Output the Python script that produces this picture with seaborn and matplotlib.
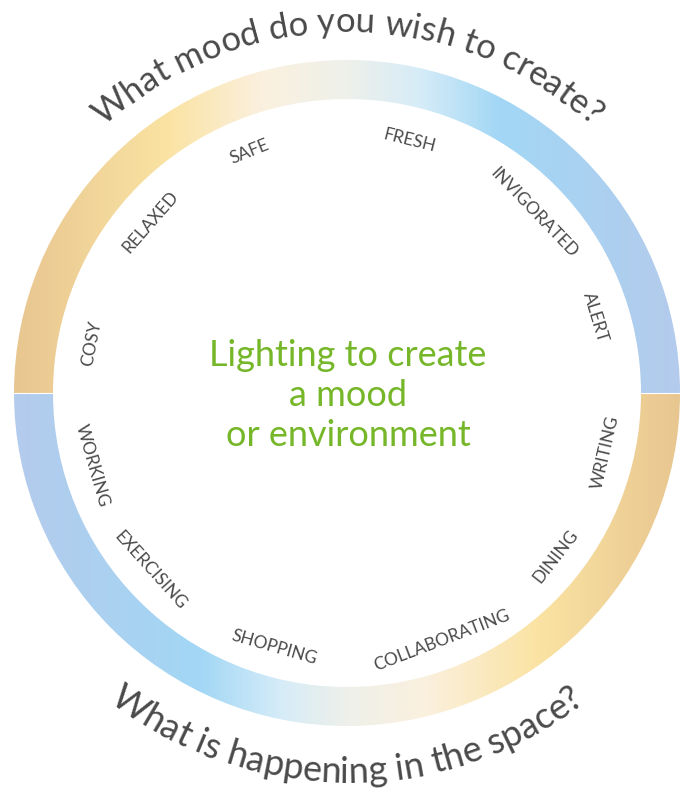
import numpy as np
import matplotlib
matplotlib.use("Agg")
import matplotlib.pyplot as plt
import seaborn as sns
from matplotlib.colors import LinearSegmentedColormap
from matplotlib.patches import Wedge
from matplotlib.font_manager import FontProperties
from matplotlib.textpath import TextToPath

sns.set_theme(style="white")
plt.rcParams['font.family'] = ['Lato', 'DejaVu Sans']

# ---- data ----
mood_labels = ['COSY', 'RELAXED', 'SAFE', 'FRESH', 'INVIGORATED', 'ALERT']
mood_angles = [169, 139, 112, 76, 44, 17]
activity_labels = ['WORKING', 'EXERCISING', 'SHOPPING', 'COLLABORATING', 'DINING', 'WRITING']
activity_angles = [196, 222, 254, 291, 322, 347]
top_title = 'What mood do you wish to create?'
bottom_title = 'What is happening in the space?'
center_lines = ['Lighting to create', 'a mood', 'or environment']

# gradient stops (fraction across the ring width, colour)
warm_to_cool = [(0.00, '#E8C690'), (0.23, '#FAE3A2'), (0.37, '#FBF0DE'),
                (0.50, '#EEF0EA'), (0.61, '#D6ECF8'), (0.73, '#A2D7F5'),
                (1.00, '#B4CBEC')]
cool_to_warm = [(0.00, '#B4CBEC'), (0.28, '#A2D7F5'), (0.40, '#D6ECF8'),
                (0.50, '#EEF0EA'), (0.62, '#FBF0DE'), (0.79, '#FAE3A2'),
                (1.00, '#E8C690')]

R_OUT, R_IN = 333, 294
DPI = 100

fig = plt.figure(figsize=(6.8, 7.93), dpi=DPI)
ax = fig.add_axes([0, 0, 1, 1])
ax.set_xlim(-347, 333)
ax.set_ylim(-400, 393)
ax.set_aspect('equal')
ax.axis('off')

grad = np.linspace(0, 1, 512).reshape(1, -1)
for stops, t1, t2 in [(warm_to_cool, 0, 180), (cool_to_warm, 180, 360)]:
    cmap = LinearSegmentedColormap.from_list('ring', stops)
    wedge = Wedge((0, 0), R_OUT, t1, t2, width=R_OUT - R_IN,
                  facecolor='none', edgecolor='none')
    ax.add_patch(wedge)
    im = ax.imshow(grad, cmap=cmap, aspect='auto',
                   extent=(-R_OUT, R_OUT, -R_OUT, R_OUT), zorder=1)
    im.set_clip_path(wedge)
ax.plot([-R_OUT, -R_IN + 1], [0, 0], color='white', lw=0.8, zorder=2)
ax.plot([R_IN - 1, R_OUT], [0, 0], color='white', lw=0.8, zorder=2)

# ---- straight labels along the inner edge ----
label_kw = dict(fontsize=12.5, color='#4a4a4a', ha='center', va='center',
                rotation_mode='anchor')
for txt, a in zip(mood_labels, mood_angles):
    t = np.deg2rad(a)
    r = 260
    ax.text(r * np.cos(t), r * np.sin(t), txt, rotation=a - 90, **label_kw)
for txt, a in zip(activity_labels, activity_angles):
    t = np.deg2rad(a)
    r = 265
    ax.text(r * np.cos(t), r * np.sin(t), txt, rotation=a + 90, **label_kw)


# ---- curved titles ----
def curved_text(s, radius, fs, top=True, color='#4a4a4a'):
    prop = FontProperties(family=['Lato', 'DejaVu Sans'], size=fs)
    ttp = TextToPath()
    ref = ttp.get_text_width_height_descent('x', prop, ismath=False)[0]
    adv = [0.0]
    for i in range(1, len(s) + 1):
        w = ttp.get_text_width_height_descent(s[:i] + 'x', prop, ismath=False)[0]
        adv.append((w - ref) * DPI / 72.0)
    total = adv[-1]
    for i, ch in enumerate(s):
        c = 0.5 * (adv[i] + adv[i + 1])
        if top:
            th = np.pi / 2 + (total / 2 - c) / radius
            rot = np.rad2deg(th) - 90
        else:
            th = 1.5 * np.pi + (c - total / 2) / radius
            rot = np.rad2deg(th) + 90
        ax.text(radius * np.cos(th), radius * np.sin(th), ch, fontproperties=prop,
                rotation=rot, rotation_mode='anchor', ha='center', va='baseline',
                color=color)


curved_text(top_title, 361, 25, top=True)
curved_text(bottom_title, 390, 26, top=False)

# ---- centre text ----
for k, line in enumerate(center_lines):
    ax.text(1, 37 - 39.5 * k, line, fontsize=26, color='#76B729', ha='center',
            va='center')

fig.savefig('out.png', dpi=DPI)
